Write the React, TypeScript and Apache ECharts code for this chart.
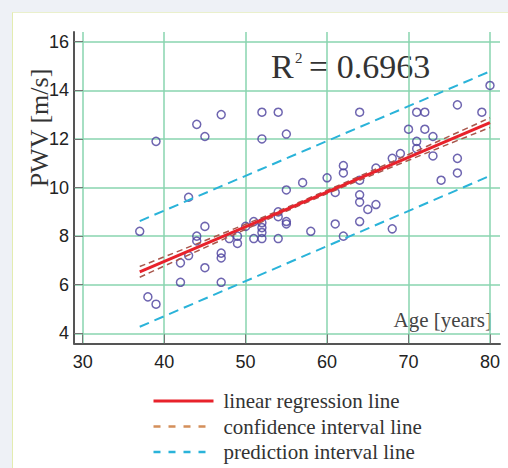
import React, { useEffect, useRef } from "react";
import * as echarts from "echarts";

const xTicks = [30, 40, 50, 60, 70, 80];
const yTicks = [4, 6, 8, 10, 12, 14, 16];

// Age [years] and PWV [m/s] of each subject
const ages = [
  37, 38, 39, 39, 42, 42, 43, 43, 44, 44, 44, 45, 45, 45,
  47, 47, 47, 47, 48, 49, 49, 50, 51, 51,
  52, 52, 52, 52, 52, 52, 54, 54, 54, 54, 55, 55, 55, 55,
  57, 58, 60, 61, 61, 62, 62, 62, 64, 64, 64, 64, 64,
  65, 66, 66, 68, 68, 69, 70, 71, 71, 71, 72, 72, 73, 73,
  74, 76, 76, 76, 79, 80,
];
const pwv = [
  8.2, 5.5, 11.9, 5.2, 6.9, 6.1, 9.6, 7.2, 12.6, 8.0, 7.8, 12.1, 8.4, 6.7,
  13.0, 7.3, 7.1, 6.1, 7.9, 8.0, 7.7, 8.4, 8.6, 7.9,
  13.1, 12.0, 8.55, 8.35, 8.15, 7.9, 13.1, 9.0, 8.8, 7.9, 12.2, 9.9, 8.6, 8.5,
  10.2, 8.2, 10.4, 9.8, 8.5, 10.9, 10.6, 8.0, 13.1, 10.3, 9.7, 9.4, 8.6,
  9.1, 10.8, 9.3, 11.2, 8.3, 11.4, 12.4, 13.1, 11.9, 11.6, 13.1, 12.4, 12.1, 11.3,
  10.3, 13.4, 11.2, 10.6, 13.1, 14.2,
];

const regX = [37, 80];
const regY = [6.53, 12.67];
const ciX = [37, 48, 58, 70, 80];
const ciUpper = [6.75, 8.22, 9.6, 11.36, 12.87];
const ciLower = [6.31, 7.98, 9.46, 11.12, 12.47];
const piX = [37, 80];
const piUpper = [8.62, 14.78];
const piLower = [4.27, 10.48];

const zip = (xs: number[], ys: number[]) => xs.map((x, i) => [x, ys[i]]);

const RED = "#e8222b";
const CI = "#a8574c";
const CI_LEGEND = "#d48f5a";
const PI = "#2ab3d9";
const SERIF = "'Liberation Serif', 'Times New Roman', serif";
const SANS = "'Liberation Sans', Arial, sans-serif";

export default function App() {
  const ref = useRef<HTMLDivElement>(null);
  useEffect(() => {
    if (!ref.current) return;
    const chart = echarts.init(ref.current, null, { renderer: "svg" });
    const gridLine = { show: true, lineStyle: { color: "#88d5af", width: 1.5 } };
    const hidden = { opacity: 0, borderWidth: 0 };
    chart.setOption({
      animation: false,
      grid: { left: 74, right: 8, top: 32, bottom: 124.7, containLabel: false },
      xAxis: {
        type: "value",
        min: 28.93,
        max: 81.23,
        axisLine: { show: true, lineStyle: { color: "#555", width: 2 } },
        axisTick: { show: true, inside: true, length: 9, customValues: xTicks, lineStyle: { color: "#777" } },
        axisLabel: { customValues: xTicks, color: "#222", fontSize: 18, fontFamily: SANS, margin: 10 },
        splitLine: gridLine,
      },
      yAxis: {
        type: "value",
        min: 3.59,
        max: 16.4,
        axisLine: { show: true, lineStyle: { color: "#555", width: 2 } },
        axisTick: { show: true, inside: true, length: 9, customValues: yTicks, lineStyle: { color: "#777" } },
        axisLabel: { customValues: yTicks, color: "#222", fontSize: 18, fontFamily: SANS, margin: 5 },
        splitLine: gridLine,
      },
      legend: {
        orient: "vertical",
        left: 152,
        top: 390,
        padding: 0,
        itemWidth: 60,
        itemHeight: 14,
        itemGap: 3.5,
        itemStyle: hidden,
        textStyle: { fontFamily: SERIF, fontSize: 21, color: "#333", lineHeight: 22, padding: [0, 0, 0, 5] },
        data: [
          { name: "linear regression line", itemStyle: hidden, lineStyle: { color: RED, width: 3, type: "solid" } },
          { name: "confidence interval line", itemStyle: hidden, lineStyle: { color: CI_LEGEND, width: 2.5, type: [7, 8] } },
          { name: "prediction interval line", itemStyle: hidden, lineStyle: { color: PI, width: 2.5, type: [7, 8] } },
        ],
      },
      graphic: [
        {
          type: "text",
          x: 39,
          y: 128,
          rotation: Math.PI / 2,
          style: { text: "PWV [m/s]", font: `26px ${SERIF}`, fill: "#333", textAlign: "center", textVerticalAlign: "middle" },
        },
        {
          type: "text",
          x: 271,
          y: 66,
          style: { text: "R", font: `34px ${SERIF}`, fill: "#333", textAlign: "left", textVerticalAlign: "middle" },
        },
        {
          type: "text",
          x: 295,
          y: 58,
          style: { text: "2", font: `15px ${SERIF}`, fill: "#333", textAlign: "left", textVerticalAlign: "middle" },
        },
        {
          type: "text",
          x: 309,
          y: 66,
          style: { text: "= 0.6963", font: `34px ${SERIF}`, fill: "#333", textAlign: "left", textVerticalAlign: "middle" },
        },
        {
          type: "text",
          x: 492,
          y: 320,
          style: { text: "Age [years]", font: `21px ${SERIF}`, fill: "#444", textAlign: "right", textVerticalAlign: "middle" },
        },
      ],
      series: [
        {
          type: "scatter",
          name: "data",
          data: zip(ages, pwv),
          symbol: "circle",
          symbolSize: 8,
          itemStyle: { color: "rgba(0,0,0,0)", borderColor: "#4a3f9c", borderWidth: 1.5 },
          z: 2,
        },
        {
          type: "line",
          name: "prediction interval line",
          data: zip(piX, piUpper),
          symbol: "none",
          lineStyle: { color: PI, width: 2, type: [10, 6] },
          z: 3,
        },
        {
          type: "line",
          name: "prediction interval line",
          data: zip(piX, piLower),
          symbol: "none",
          lineStyle: { color: PI, width: 2, type: [10, 6] },
          z: 3,
        },
        {
          type: "line",
          name: "confidence interval line",
          data: zip(ciX, ciUpper),
          symbol: "none",
          smooth: true,
          lineStyle: { color: CI, width: 1.5, type: [6, 4] },
          z: 3,
        },
        {
          type: "line",
          name: "confidence interval line",
          data: zip(ciX, ciLower),
          symbol: "none",
          smooth: true,
          lineStyle: { color: CI, width: 1.5, type: [6, 4] },
          z: 3,
        },
        {
          type: "line",
          name: "linear regression line",
          data: zip(regX, regY),
          symbol: "none",
          lineStyle: { color: RED, width: 3 },
          z: 4,
        },
      ],
    });
    return () => chart.dispose();
  }, []);

  return (
    <div style={{ position: "fixed", left: 0, top: 0, width: 508, height: 468, background: "#eef1f6", overflow: "hidden" }}>
      <div
        style={{
          position: "absolute",
          left: 12,
          top: 12,
          width: 520,
          height: 480,
          background: "#ffffff",
          borderLeft: "1px solid #e3ecb0",
          borderTop: "1px solid #eaf0cc",
        }}
      />
      <div ref={ref} style={{ position: "absolute", left: 0, top: 0, width: 508, height: 468 }} />
    </div>
  );
}
